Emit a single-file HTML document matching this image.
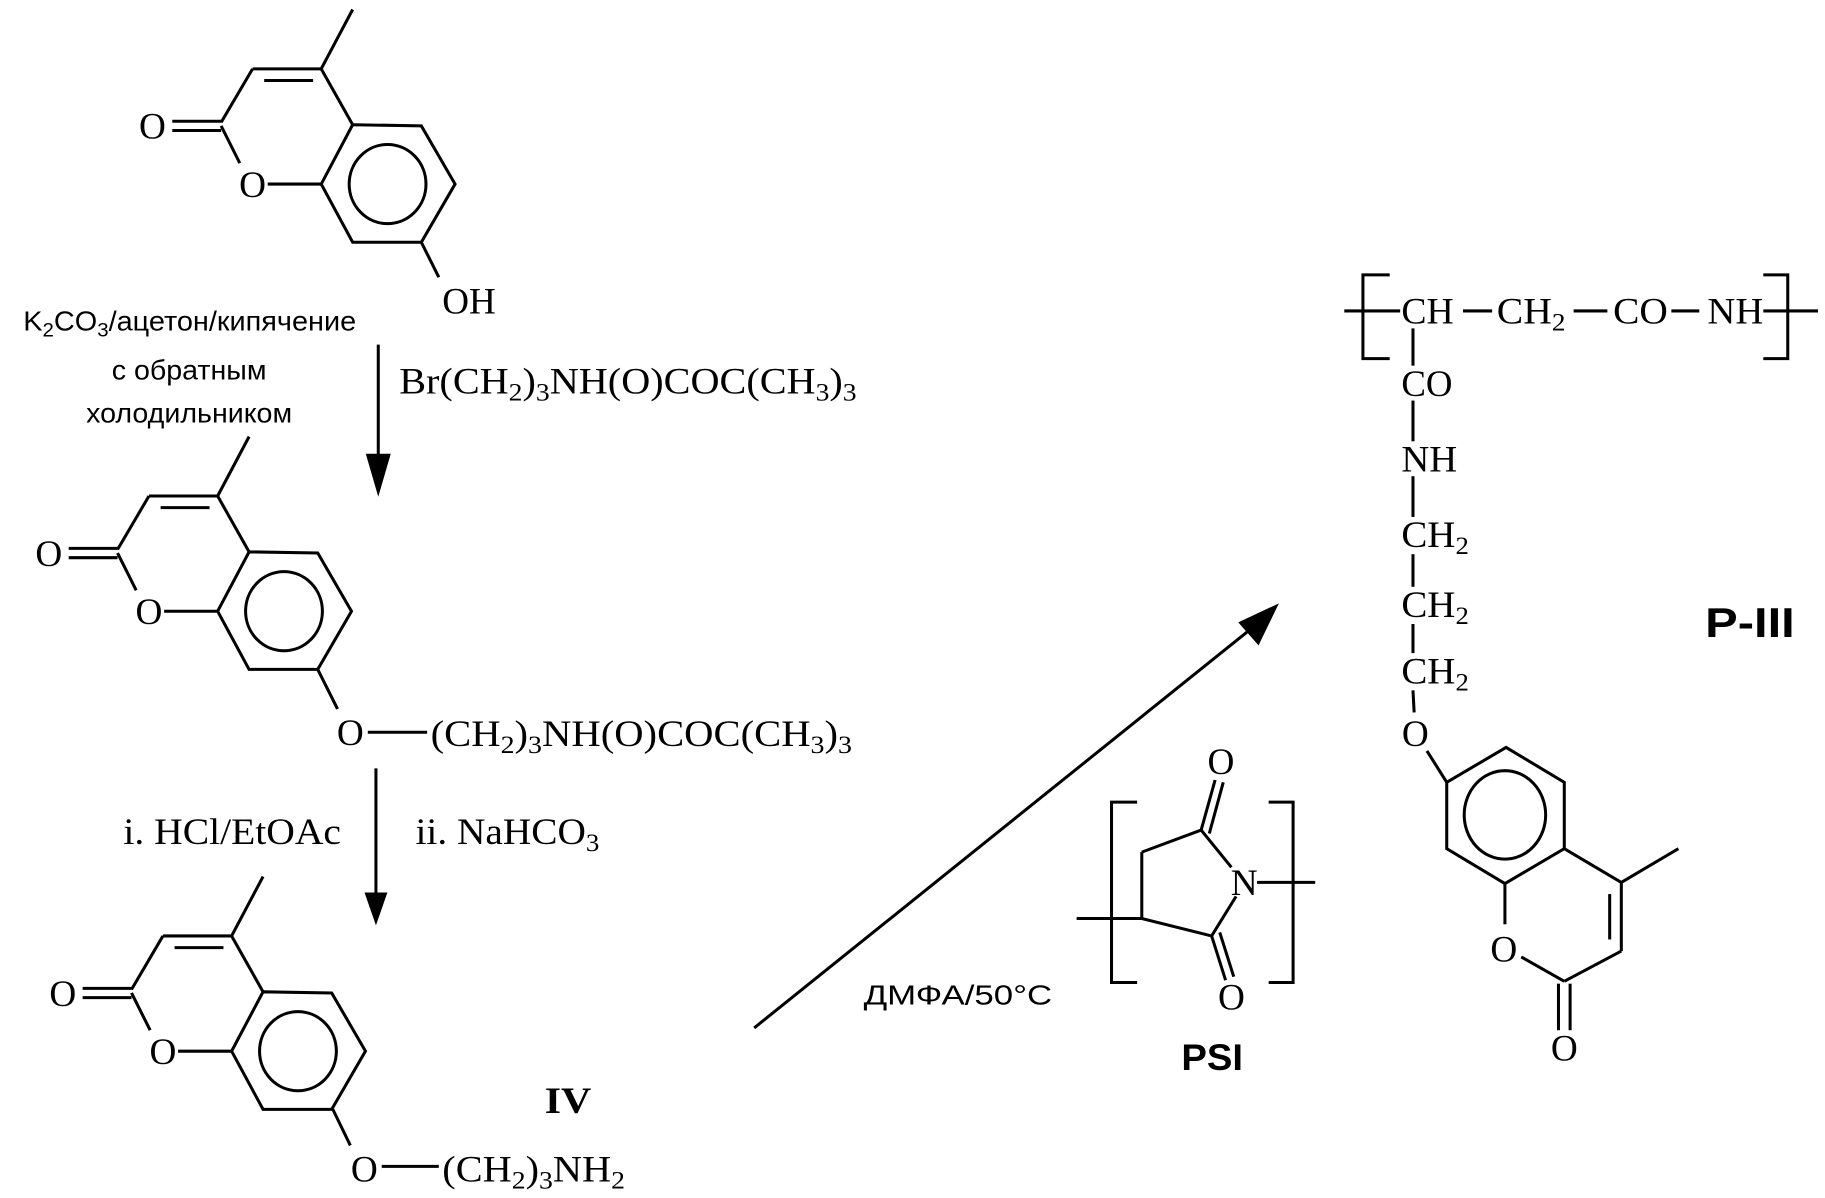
<!DOCTYPE html>
<html><head><meta charset="utf-8"><style>
html,body{margin:0;padding:0;background:#fff;}
svg{display:block}
.t{font-family:"Liberation Serif",serif;font-size:32px;fill:#000}
.s{font-family:"Liberation Sans",sans-serif;font-size:24px;fill:#000}
.b{font-family:"Liberation Sans",sans-serif;font-weight:bold;fill:#000}
line,polyline,polygon,circle,ellipse,path{stroke:#000;stroke-width:2.6;fill:none}
</style></head><body>
<svg width="1825" height="1198" viewBox="0 0 1568 1029" xmlns="http://www.w3.org/2000/svg">
<defs>
<g id="cou">
<line x1="303" y1="8" x2="276" y2="59"/>
<line x1="276" y1="59" x2="217" y2="59"/>
<line x1="227" y1="69" x2="269" y2="69"/>
<line x1="217" y1="59" x2="190" y2="105"/>
<line x1="148" y1="104" x2="190" y2="104"/>
<line x1="148" y1="112" x2="190" y2="112"/>
<line x1="190" y1="108" x2="206" y2="140"/>
<line x1="230" y1="158" x2="276" y2="158"/>
<line x1="276" y1="59" x2="303" y2="107"/>
<polygon points="303,107 362,108 391,158 362,208 303,208 276,158"/>
<ellipse cx="333" cy="158" rx="33" ry="34"/>
<text class="t" x="131" y="119" text-anchor="middle">O</text>
<text class="t" x="217" y="169" text-anchor="middle">O</text>
</g>
</defs>
<use href="#cou"/>
<line x1="362" y1="208" x2="377" y2="238"/>
<text class="t" x="380" y="269" textLength="46" lengthAdjust="spacingAndGlyphs">OH</text>
<text class="s" x="20" y="284" textLength="286" lengthAdjust="spacingAndGlyphs">K<tspan dy="5" font-size="17">2</tspan><tspan dy="-5">CO</tspan><tspan dy="5" font-size="17">3</tspan><tspan dy="-5">/ацетон/кипячение</tspan></text>
<text class="s" x="96" y="326" textLength="133" lengthAdjust="spacingAndGlyphs">с обратным</text>
<text class="s" x="74" y="363" textLength="177" lengthAdjust="spacingAndGlyphs">холодильником</text>
<line x1="325" y1="296" x2="325" y2="400"/>
<polygon points="316,391 334,391 325,422" style="fill:#000"/>
<text class="t" x="343" y="338" textLength="393" lengthAdjust="spacingAndGlyphs">Br(CH<tspan dy="6" font-size="22">2</tspan><tspan dy="-6">)</tspan><tspan dy="6" font-size="22">3</tspan><tspan dy="-6">NH(O)COC(CH</tspan><tspan dy="6" font-size="22">3</tspan><tspan dy="-6">)</tspan><tspan dy="6" font-size="22">3</tspan></text>
<use href="#cou" transform="translate(-89,367)"/>
<line x1="273" y1="575" x2="290" y2="609"/>
<text class="t" x="301" y="640" text-anchor="middle">O</text>
<line x1="316" y1="629" x2="367" y2="629"/>
<text class="t" x="370" y="641" textLength="362" lengthAdjust="spacingAndGlyphs">(CH<tspan dy="6" font-size="22">2</tspan><tspan dy="-6">)</tspan><tspan dy="6" font-size="22">3</tspan><tspan dy="-6">NH(O)COC(CH</tspan><tspan dy="6" font-size="22">3</tspan><tspan dy="-6">)</tspan><tspan dy="6" font-size="22">3</tspan></text>
<line x1="323" y1="660" x2="323" y2="770"/>
<polygon points="315,768 331,768 323,791" style="fill:#000"/>
<text class="t" x="106" y="725" textLength="187" lengthAdjust="spacingAndGlyphs">i. HCl/EtOAc</text>
<text class="t" x="357" y="725" textLength="158" lengthAdjust="spacingAndGlyphs">ii. NaHCO<tspan dy="6" font-size="22">3</tspan></text>
<use href="#cou" transform="translate(-77,745)"/>
<line x1="286" y1="953" x2="301" y2="984"/>
<text class="t" x="313" y="1015" text-anchor="middle">O</text>
<line x1="328" y1="1002" x2="377" y2="1002"/>
<text class="t" x="380" y="1015" textLength="157" lengthAdjust="spacingAndGlyphs">(CH<tspan dy="6" font-size="22">2</tspan><tspan dy="-6">)</tspan><tspan dy="6" font-size="22">3</tspan><tspan dy="-6">NH</tspan><tspan dy="6" font-size="22">2</tspan></text>
<text class="t" x="468" y="956" font-weight="bold" font-size="38" textLength="40" lengthAdjust="spacingAndGlyphs">IV</text>
<path d="M648,883 Q860,712 1080,536"/>
<polygon points="1096,521 1066,535 1081,552" style="fill:#000"/>
<text class="s" x="742" y="863" textLength="162" lengthAdjust="spacingAndGlyphs">ДМФА/50°C</text>
<polyline points="977,689 955,689 955,844 977,844"/>
<polyline points="1090,689 1111,689 1111,844 1090,844"/>
<line x1="925" y1="789" x2="981" y2="789"/>
<line x1="981" y1="789" x2="981" y2="732"/>
<line x1="981" y1="732" x2="1032" y2="713"/>
<line x1="981" y1="789" x2="1041" y2="804"/>
<line x1="1032" y1="713" x2="1058" y2="745"/>
<line x1="1041" y1="804" x2="1062" y2="770"/>
<line x1="1032" y1="713" x2="1044" y2="670"/>
<line x1="1039" y1="716" x2="1051" y2="672"/>
<line x1="1041" y1="804" x2="1053" y2="842"/>
<line x1="1048" y1="801" x2="1060" y2="839"/>
<text class="t" x="1069" y="769" text-anchor="middle">N</text>
<text class="t" x="1049" y="665" text-anchor="middle">O</text>
<text class="t" x="1058" y="867" text-anchor="middle">O</text>
<line x1="1080" y1="758" x2="1130" y2="758"/>
<text class="b" x="1015" y="919" font-size="32" textLength="53" lengthAdjust="spacingAndGlyphs">PSI</text>
<polyline points="1194,236 1171,236 1171,308 1194,308"/>
<polyline points="1515,236 1536,236 1536,308 1515,308"/>
<line x1="1155" y1="267" x2="1203" y2="267"/>
<text class="t" x="1204" y="278" textLength="45" lengthAdjust="spacingAndGlyphs">CH</text>
<line x1="1257" y1="267" x2="1282" y2="267"/>
<text class="t" x="1286" y="278" textLength="59" lengthAdjust="spacingAndGlyphs">CH<tspan dy="6" font-size="22">2</tspan></text>
<line x1="1352" y1="267" x2="1381" y2="267"/>
<text class="t" x="1386" y="278" textLength="47" lengthAdjust="spacingAndGlyphs">CO</text>
<line x1="1436" y1="267" x2="1460" y2="267"/>
<text class="t" x="1467" y="278" textLength="48" lengthAdjust="spacingAndGlyphs">NH</text>
<line x1="1515" y1="267" x2="1562" y2="267"/>
<line x1="1214" y1="282" x2="1214" y2="314"/>
<text class="t" x="1204" y="340" textLength="44" lengthAdjust="spacingAndGlyphs">CO</text>
<line x1="1214" y1="344" x2="1214" y2="379"/>
<text class="t" x="1204" y="405" textLength="48" lengthAdjust="spacingAndGlyphs">NH</text>
<line x1="1214" y1="409" x2="1214" y2="444"/>
<text class="t" x="1204" y="470" textLength="58" lengthAdjust="spacingAndGlyphs">CH<tspan dy="6" font-size="22">2</tspan></text>
<line x1="1214" y1="476" x2="1214" y2="504"/>
<text class="t" x="1204" y="530" textLength="58" lengthAdjust="spacingAndGlyphs">CH<tspan dy="6" font-size="22">2</tspan></text>
<line x1="1214" y1="536" x2="1214" y2="561"/>
<text class="t" x="1204" y="587" textLength="58" lengthAdjust="spacingAndGlyphs">CH<tspan dy="6" font-size="22">2</tspan></text>
<line x1="1214" y1="593" x2="1215" y2="612"/>
<text class="t" x="1216" y="641" text-anchor="middle">O</text>
<line x1="1226" y1="645" x2="1243" y2="672"/>
<polygon points="1243,672 1294,642 1344,672 1344,729 1293,759 1243,729"/>
<ellipse cx="1293" cy="700" rx="35" ry="38"/>
<line x1="1344" y1="729" x2="1393" y2="758"/>
<line x1="1393" y1="758" x2="1442" y2="729"/>
<line x1="1393" y1="758" x2="1393" y2="817"/>
<line x1="1383" y1="768" x2="1383" y2="807"/>
<line x1="1393" y1="817" x2="1344" y2="843"/>
<line x1="1293" y1="759" x2="1293" y2="794"/>
<text class="t" x="1292" y="826" text-anchor="middle">O</text>
<line x1="1307" y1="822" x2="1344" y2="843"/>
<line x1="1339" y1="845" x2="1339" y2="885"/>
<line x1="1349" y1="845" x2="1349" y2="885"/>
<text class="t" x="1344" y="911" text-anchor="middle">O</text>
<text class="b" x="1465" y="547" font-size="36" textLength="77" lengthAdjust="spacingAndGlyphs">P-III</text>
</svg>
</body></html>
